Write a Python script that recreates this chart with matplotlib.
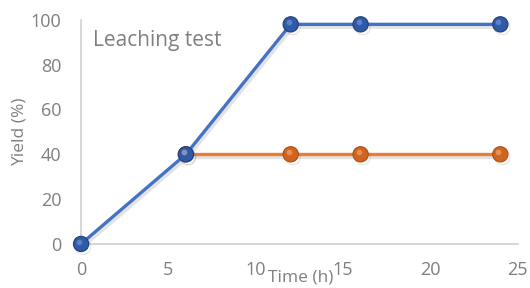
import matplotlib.pyplot as plt
import matplotlib.patheffects as pe

time_blue = [0, 6, 12, 16, 24]
yield_blue = [0, 40, 98, 98, 98]
time_orange = [6, 12, 16, 24]
yield_orange = [40, 40, 40, 40]

plt.rcParams['font.family'] = ['Open Sans', 'DejaVu Sans']
plt.rcParams['xtick.major.pad'] = 12
plt.rcParams['ytick.major.pad'] = 14
grey = '#7f7f7f'

fig = plt.figure(figsize=(5.3, 2.88), dpi=100)
ax = fig.add_axes([0.153, 0.153, 0.824, 0.778])

shadow = [pe.SimpleLineShadow(offset=(1.5, -2), shadow_color='#666666', alpha=0.18), pe.Normal()]

ax.plot(time_orange, yield_orange, color='#ED7D31', lw=2.4, marker='o', ms=11,
        mfc='#D0651F', mec='#A84F15', mew=0.8, path_effects=shadow, zorder=3, clip_on=False)
ax.plot(time_blue, yield_blue, color='#4472C4', lw=2.4, marker='o', ms=11,
        mfc='#2F5AA8', mec='#1F3F7A', mew=0.8, path_effects=shadow, zorder=4, clip_on=False)
# glossy highlight on the balls
ax.plot(time_orange, yield_orange, ls='none', marker='o', ms=4, mfc='#F4A46C', mec='none',
        alpha=0.7, zorder=5, clip_on=False, transform=ax.transData + plt.matplotlib.transforms.ScaledTranslation(-1.5 / 72, 1.5 / 72, fig.dpi_scale_trans))
ax.plot(time_blue, yield_blue, ls='none', marker='o', ms=4, mfc='#6E93D6', mec='none',
        alpha=0.7, zorder=5, clip_on=False, transform=ax.transData + plt.matplotlib.transforms.ScaledTranslation(-1.5 / 72, 1.5 / 72, fig.dpi_scale_trans))

ax.set_xlim(0, 25)
ax.set_ylim(0, 100)
ax.set_xticks([0, 5, 10, 15, 20, 25])
ax.set_yticks([0, 20, 40, 60, 80, 100])
ax.tick_params(length=0, labelsize=13, colors=grey)
for s in ['top', 'right']:
    ax.spines[s].set_visible(False)
for s in ['left', 'bottom']:
    ax.spines[s].set_color('#d0d0d0')
    ax.spines[s].set_linewidth(1.2)

ax.text(0.7, 91, 'Leaching test', fontsize=15, color=grey, va='center', ha='left')
fig.text(301 / 530, 1 - 277 / 288, 'Time (h)', fontsize=12.5, color=grey, ha='center', va='center')
fig.text(20 / 530, 1 - 132 / 288, 'Yield (%)', fontsize=12.5, color=grey, ha='center', va='center', rotation=90)

fig.savefig('out.png', dpi=100)
